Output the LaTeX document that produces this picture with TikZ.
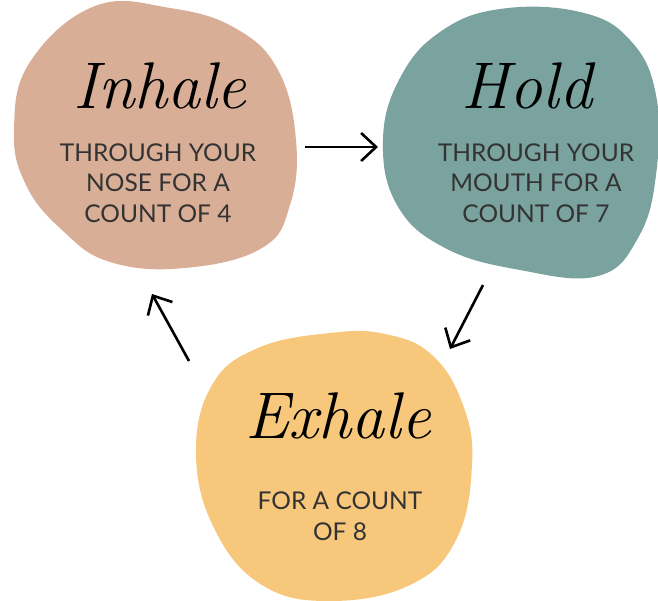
\documentclass[tikz,border=0pt]{standalone}
\usepackage{fontspec}
\usetikzlibrary{arrows.meta}
\newfontfamily\latofont{Lato}
\definecolor{pinkblob}{HTML}{D9AE96}
\definecolor{tealblob}{HTML}{7AA3A0}
\definecolor{yellowblob}{HTML}{F7C87C}
\definecolor{txt}{HTML}{333333}
\tikzset{
  blob/.style={draw=none},
  title/.style={font=\fontsize{66}{66}\selectfont\itshape, text=black, inner sep=0pt},
  body/.style={font=\latofont\fontsize{24.5}{30.5}\selectfont, text=txt, align=center, inner sep=0pt},
  flow/.style={line width=2.6pt, black, -{Straight Barb[length=15pt,width=28pt,line width=2.6pt]}}
}
\begin{document}
\begin{tikzpicture}[x=1pt,y=-1pt]
\useasboundingbox (0,0) rectangle (658,601);
% blobs
\fill[pinkblob] plot[smooth cycle, tension=0.7] coordinates {
  (95,6) (170,8) (235,28) (278,70) (296,140) (290,205) (262,248) (185,268)
  (110,262) (62,230) (26,185) (14,130) (30,62)};
\fill[tealblob] plot[smooth cycle, tension=0.7] coordinates {
  (500,9) (580,12) (630,40) (656,95) (656,175) (638,238) (598,276)
  (520,270) (445,248) (397,205) (383,140) (400,78) (440,32)};
\fill[yellowblob] plot[smooth cycle, tension=0.7] coordinates {
  (330,333) (385,334) (432,355) (463,405) (472,465) (456,540) (410,585)
  (330,601) (262,585) (215,530) (196,455) (212,385) (258,348)};
% texts
\node[title] (t1) at (160,86) {Inhale};
\node[body] (b1) at (158,183) {THROUGH YOUR\\NOSE FOR A\\COUNT OF 4};
\node[title] (t2) at (527,86) {Hold};
\node[body] (b2) at (536,183) {THROUGH YOUR\\MOUTH FOR A\\COUNT OF 7};
\node[title] (t3) at (338,416) {Exhale};
\node[body] (b3) at (340,516) {FOR A COUNT\\OF 8};
% arrows
\coordinate (a1s) at (305,147);
\coordinate (a1e) at (378,147);
\coordinate (a2s) at (483,285);
\coordinate (a2e) at (450,349);
\coordinate (a3s) at (189,361);
\coordinate (a3e) at (152,294);
\draw[flow] (a1s) -- (a1e);
\draw[flow] (a2s) -- (a2e);
\draw[flow] (a3s) -- (a3e);
\end{tikzpicture}
\end{document}
